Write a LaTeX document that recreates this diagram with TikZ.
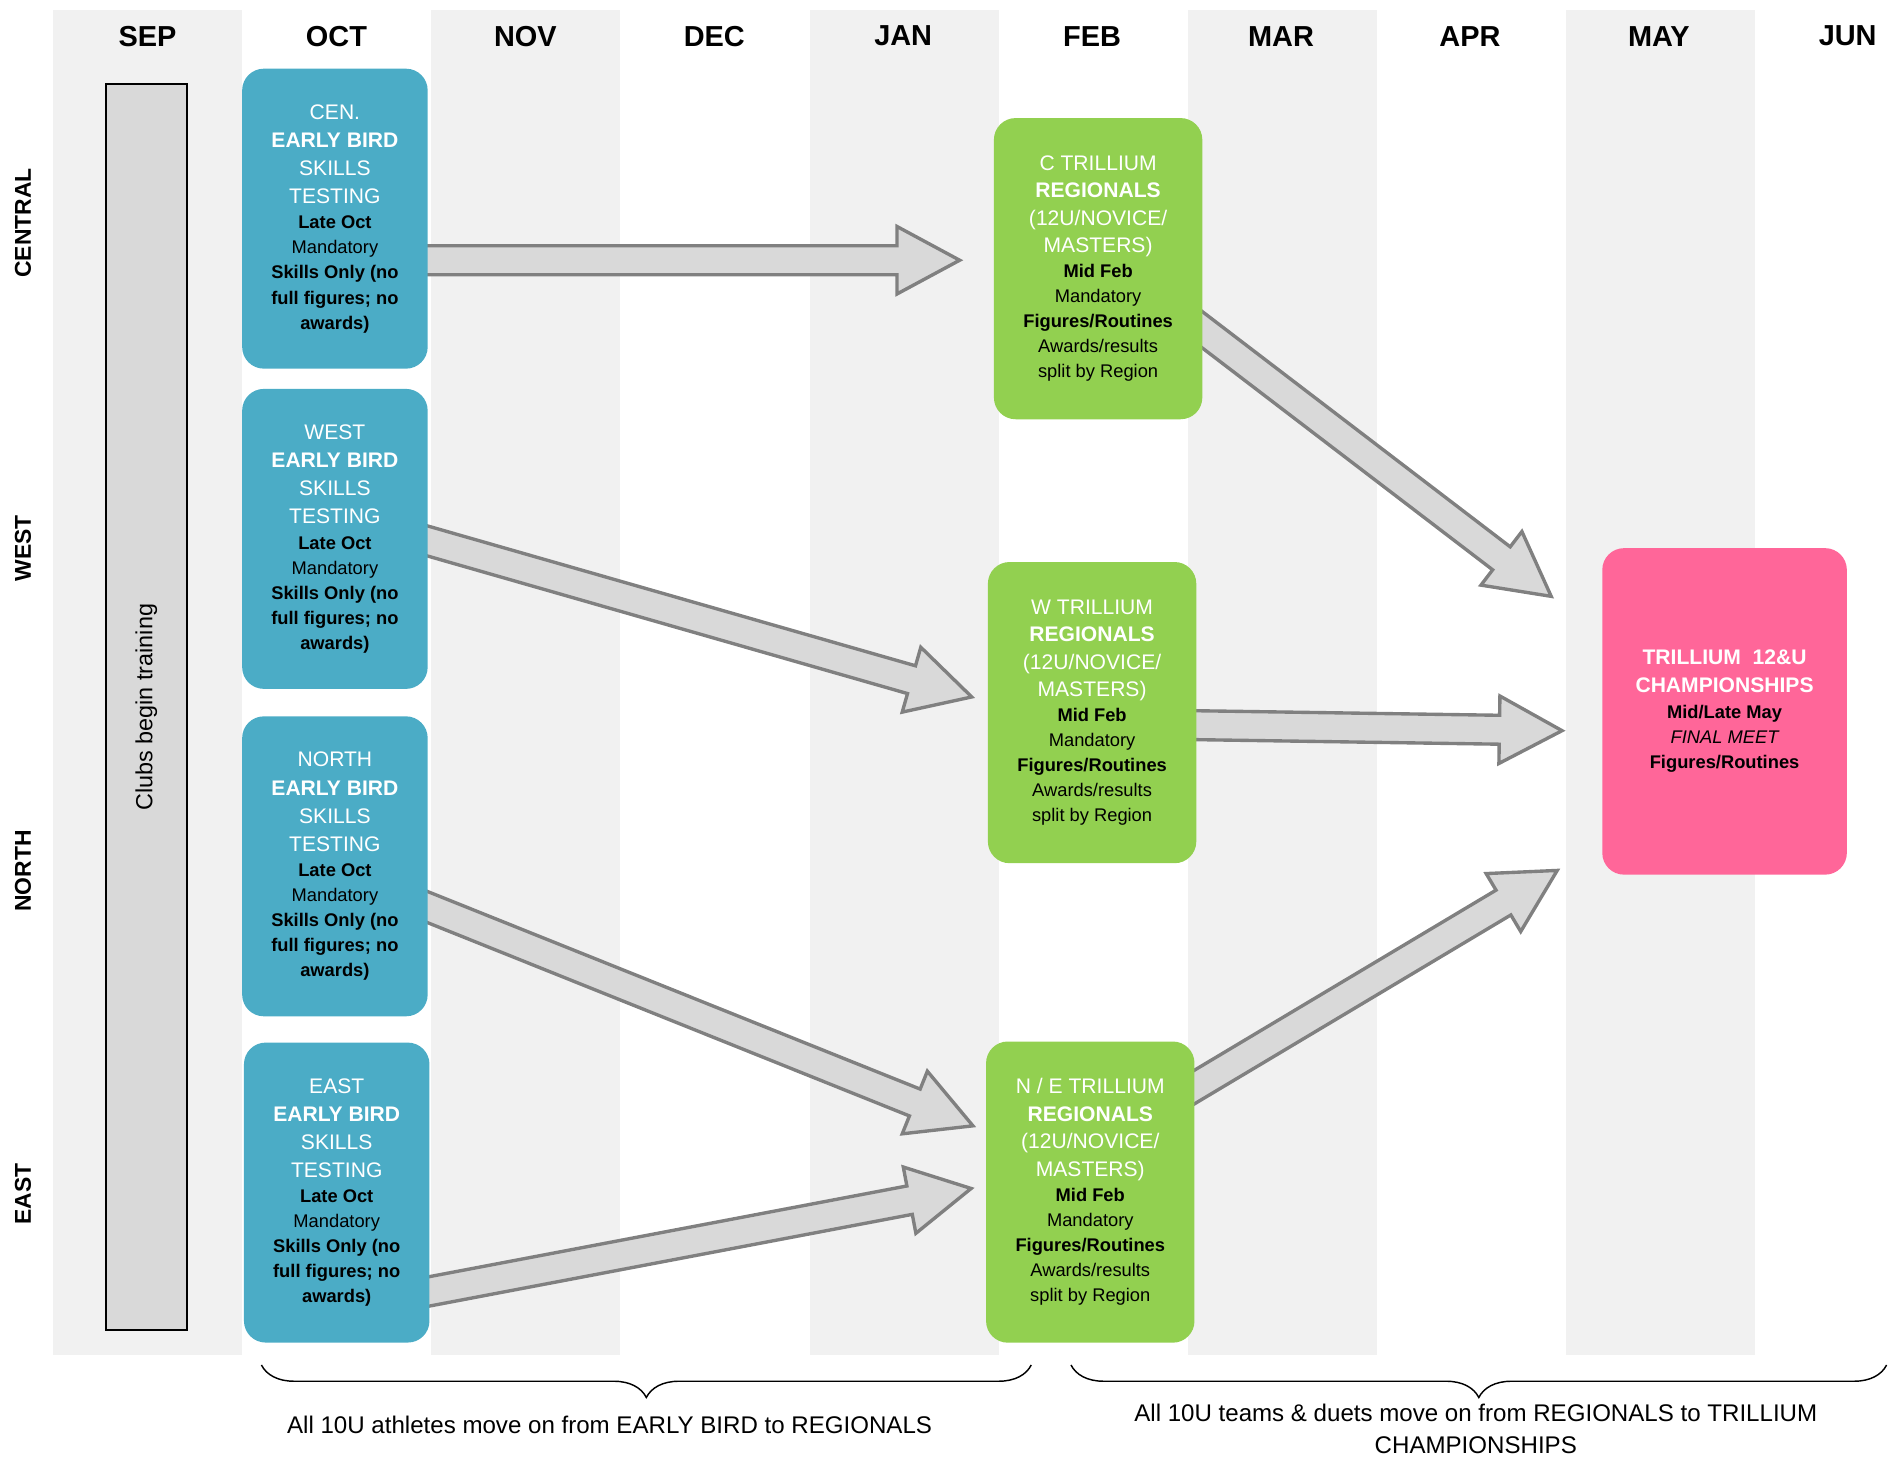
\documentclass[tikz,border=0pt]{standalone}
\usepackage{fontspec}
\setmainfont{Liberation Sans}
\usetikzlibrary{positioning}
\usetikzlibrary{calc}
\usetikzlibrary{decorations.pathreplacing}
\definecolor{mstripe}{RGB}{241,241,241}
\definecolor{mblue}{RGB}{75,172,198}
\definecolor{mgreen}{RGB}{146,208,80}
\definecolor{mpink}{RGB}{255,102,153}
\definecolor{mgrey}{RGB}{217,217,217}
\definecolor{mline}{RGB}{128,128,128}
\pgfdeclarelayer{background}
\pgfdeclarelayer{arrows}
\pgfsetlayers{background,arrows,main}
\newcommand{\toptxt}[1]{{\fontsize{8.75}{10.4}\selectfont\color{white}#1}}
\newcommand{\topbf}[1]{{\fontsize{8.75}{10.4}\selectfont\bfseries\color{white}#1}}
\newcommand{\lowtxt}[1]{{\fontsize{7.6}{10.4}\selectfont #1}}
\newcommand{\lowbf}[1]{{\fontsize{7.6}{10.4}\selectfont\bfseries #1}}
\newcommand{\lowit}[1]{{\fontsize{7.6}{10.4}\selectfont\itshape #1}}
\newcommand{\earlytext}[1]{\toptxt{#1}\\[1.3pt]\topbf{EARLY BIRD}\\[1.3pt]\toptxt{SKILLS}\\[1.3pt]\toptxt{TESTING}\\\lowbf{Late Oct}\\\lowtxt{Mandatory}\\\lowbf{Skills Only (no}\\\lowbf{full figures; no}\\\lowbf{awards)}}
\newcommand{\regiontext}[1]{\toptxt{#1}\\[1pt]\topbf{REGIONALS}\\[1pt]\toptxt{(12U/NOVICE/}\\[1pt]\toptxt{MASTERS)}\\\lowbf{Mid Feb}\\\lowtxt{Mandatory}\\\lowbf{Figures/Routines}\\\lowtxt{Awards/results}\\\lowtxt{split by Region}}
% block arrow from #1 to #2
\newcommand{\blockarrow}[2]{%
  \coordinate (ba-h) at ($(#2)!26pt!(#1)$);
  \draw[bigarrow] ($(#1)!6pt!-90:(#2)$) -- ($(ba-h)!6pt!90:(#1)$) -- ($(ba-h)!14pt!90:(#1)$) -- (#2)
    -- ($(ba-h)!14pt!-90:(#1)$) -- ($(ba-h)!6pt!-90:(#1)$) -- ($(#1)!6pt!90:(#2)$) -- cycle;}

\begin{document}
\begin{tikzpicture}[x=0.5pt, y=-0.5pt,
    month/.style={font=\fontsize{12}{14}\selectfont\bfseries},
    region/.style={font=\fontsize{9.5}{11}\selectfont\bfseries, rotate=90},
    clubs/.style={draw=black, line width=0.75pt, fill=mgrey, rotate=90, inner sep=0pt,
        minimum width=517pt, minimum height=33.5pt, font=\fontsize{9.7}{11}\selectfont},
    card/.style={rounded corners=9pt, align=center, inner sep=0pt, font=\fontsize{7.6}{10.4}\selectfont},
    earlybird/.style={card, fill=mblue, minimum width=77pt, minimum height=124.5pt},
    regional/.style={card, fill=mgreen, minimum width=86.5pt, minimum height=125pt},
    champ/.style={card, fill=mpink, minimum width=101.5pt, minimum height=135.5pt},
    bigarrow/.style={fill=mgrey, draw=mline, line width=1.4pt, line join=miter},
    span/.style={decorate, decoration={brace, mirror, amplitude=13.5pt}, line width=0.6pt},
    note/.style={font=\fontsize{10}{13}\selectfont, align=center},
]
\useasboundingbox (0,0) rectangle (1568,1212);

% month columns
\begin{pgfonlayer}{background}
\foreach \i in {0,...,4}
  \fill[mstripe] ({44+314*\i},8) rectangle +(157,1117);
\end{pgfonlayer}
\foreach \m [count=\i from 0] in {SEP,OCT,NOV,DEC,JAN,FEB,MAR,APR,MAY,JUN}
  \node[month] (\m) at ({122.5+156.8*\i},30) {\m};

% regions
\node[region] (central) at (19,185) {CENTRAL};
\node[region] (westlbl) at (19,455) {WEST};
\node[region] (northlbl) at (19,723) {NORTH};
\node[region] (eastlbl) at (19,991) {EAST};

\node[clubs] (train) at (121.5,587) {Clubs begin training};

% early bird
\node[earlybird] (cen) at (278,181.5) {\earlytext{CEN.}};
\node[earlybird, below=8pt of cen] (west) {\earlytext{WEST}};
\node[earlybird, below=11pt of west] (north) {\earlytext{NORTH}};
\node[earlybird, below=10.5pt of north, xshift=0.75pt] (east) {\earlytext{EAST}};

% regionals
\node[regional] (c) at (911.5,223) {\regiontext{C TRILLIUM}};
\node[regional] (w) at (906.5,591.5) {\regiontext{W TRILLIUM}};
\node[regional] (ne) at (905,989.5) {\regiontext{N / E TRILLIUM}};

% championships
\node[champ] (final) at (1431.5,590.5) {\topbf{TRILLIUM~~12\&U}\\[1pt]\topbf{CHAMPIONSHIPS}\\[0.6pt]\lowbf{Mid/Late May}\\\lowit{FINAL MEET}\\\lowbf{Figures/Routines}};

\coordinate (cen-out) at ($(cen.east)+(-10,34.5)$);
\coordinate (west-out) at ($(west.east)+(-10,-1)$);
\coordinate (north-out) at ($(north.east)+(-10,30)$);
\coordinate (east-out) at ($(east.east)+(-11,84)$);
\coordinate (c-in) at ($(c.west)+(-28,-7)$);
\coordinate (w-in) at ($(w.west)+(-13,-13)$);
\coordinate (ne-in1) at ($(ne.west)+(-10.5,-55)$);
\coordinate (ne-in2) at ($(ne.west)+(-12,-3)$);
\coordinate (c-out) at ($(c.east)+(-10,43.4)$);
\coordinate (w-out) at ($(w.east)+(-10,10.3)$);
\coordinate (ne-out) at ($(ne.east)+(-10,-81.5)$);
\coordinate (final-in1) at ($(final.west)+(-42,-95.5)$);
\coordinate (final-in2) at ($(final.west)+(-33,16)$);
\coordinate (final-in3) at ($(final.west)+(-37,132)$);

\begin{pgfonlayer}{arrows}
\blockarrow{cen-out}{c-in}
\blockarrow{west-out}{w-in}
\blockarrow{north-out}{ne-in1}
\blockarrow{east-out}{ne-in2}
\blockarrow{c-out}{final-in1}
\blockarrow{w-out}{final-in2}
\blockarrow{ne-out}{final-in3}
\end{pgfonlayer}

% braces
\draw[span] (217,1133) -- (856,1133);
\draw[span] (889,1133) -- (1566,1133);
\node[note] (note1) at (506,1183) {All 10U athletes move on from EARLY BIRD to REGIONALS};
\node[note] (note2) at (1225,1186) {All 10U teams \& duets move on from REGIONALS to TRILLIUM\\CHAMPIONSHIPS};
\end{tikzpicture}
\end{document}
